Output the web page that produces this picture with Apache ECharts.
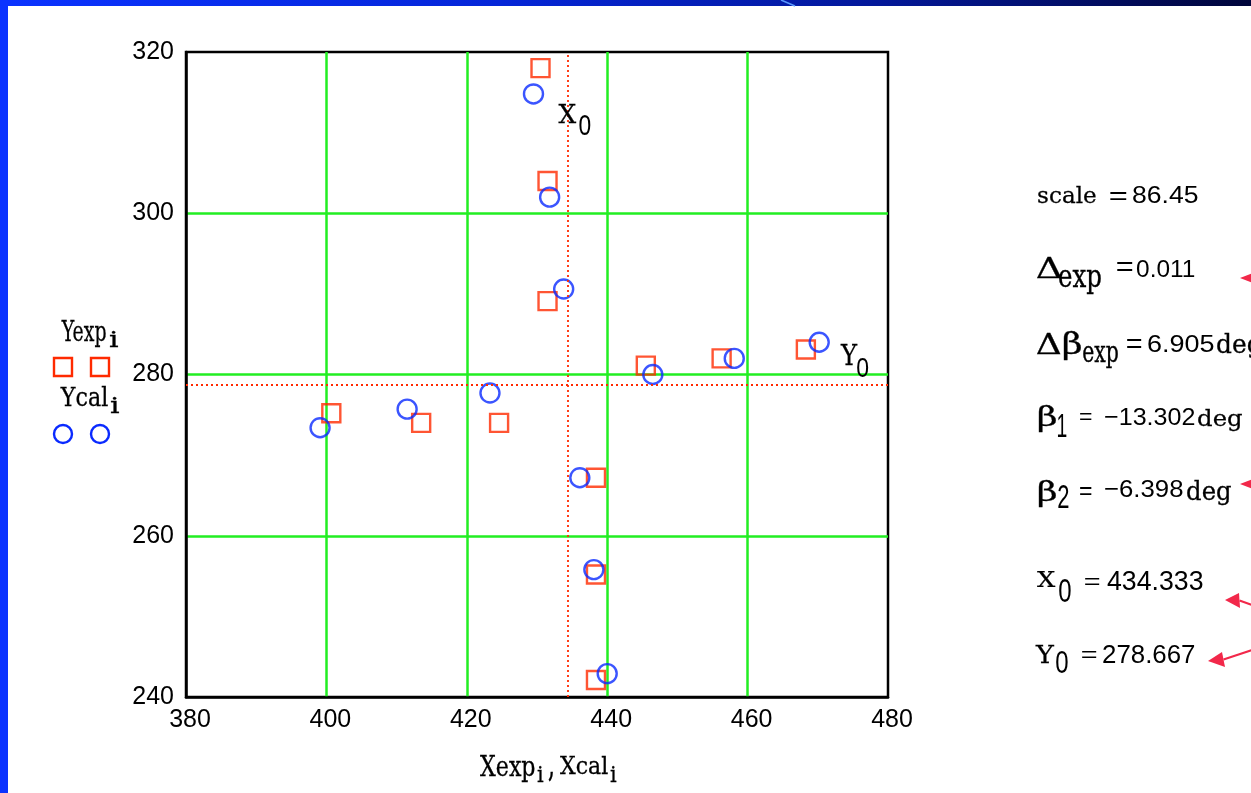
<!DOCTYPE html>
<html><head><meta charset="utf-8">
<script src="https://cdn.jsdelivr.net/npm/echarts@6/dist/echarts.min.js"></script>
<style>html,body{margin:0;padding:0;background:#fff;overflow:hidden}#c{width:1251px;height:793px;}</style>
</head><body><div id="c"></div>
<script>
// ---- data ----
const xTicks = [380, 400, 420, 440, 460, 480];
const yTicks = [240, 260, 280, 300, 320];
const xExp = [430.5, 431.5, 431.5, 400.7, 413.5, 424.6, 438.4, 438.4, 438.4, 445.5, 456.3, 468.3];
const yExp = [318.0, 304.0, 289.1, 275.2, 274.0, 274.0, 267.2, 255.2, 242.1, 281.1, 282.0, 283.1];
const xCal = [429.5, 431.8, 433.8, 399.1, 411.5, 423.3, 436.1, 438.1, 440.0, 446.5, 458.1, 470.2];
const yCal = [314.8, 302.0, 290.6, 273.4, 275.7, 277.7, 267.2, 255.8, 242.9, 280.0, 282.0, 284.0];
const X0 = 434.333;
const Y0 = 278.667;

const RED = '#ff2a00', BLUE = '#0a2aff', GREEN = '#22ee22', ARROW = '#f2284a';
const SERIF = 'DejaVu Serif', SANS = 'Liberation Sans';

const chart = echarts.init(document.getElementById('c'), null, {renderer: 'canvas'});
const mctx = document.createElement('canvas').getContext('2d');
// place text so that its ink fills the box [L,R]x[T,B]
function box(t, fam, size, L, T, R, B) {
  mctx.font = size + 'px ' + fam;
  mctx.textBaseline = 'middle';
  mctx.textAlign = 'left';
  const m = mctx.measureText(t);
  const a = m.actualBoundingBoxAscent, d = m.actualBoundingBoxDescent;
  const l = m.actualBoundingBoxLeft, r = m.actualBoundingBoxRight;
  const sx = (R - L) / (l + r), sy = (B - T) / (a + d);
  const style = {text: t, fontFamily: fam, fontSize: size, fill: '#000', align: 'left', verticalAlign: 'middle'};
  if (fam === SERIF) { style.stroke = '#000'; style.lineWidth = 0.3; }
  return {type: 'text', x: L + sx * l, y: T + sy * a, scaleX: sx, scaleY: sy, silent: true, z: 100, style: style};
}

const option = {
  animation: false,
  backgroundColor: '#fff',
  grid: {left: 186, right: 363, top: 52, bottom: 96, show: true, borderColor: '#000', borderWidth: 2.5,
         backgroundColor: 'rgba(0,0,0,0)', containLabel: false, outerBoundsMode: 'none'},
  xAxis: {type: 'value', min: xTicks[0], max: xTicks[xTicks.length - 1], interval: xTicks[1] - xTicks[0],
    axisLine: {show: true, onZero: false, lineStyle: {color: '#000', width: 2.5}},
    axisTick: {show: false},
    axisLabel: {color: '#000', fontFamily: SANS, fontSize: 25, margin: 11, padding: [0, 0, 0, 8],
      showMinLabel: true, showMaxLabel: true},
    splitLine: {show: true, showMinLine: false, showMaxLine: false, lineStyle: {color: GREEN, width: 2.5}}},
  yAxis: {type: 'value', min: yTicks[0], max: yTicks[yTicks.length - 1], interval: yTicks[1] - yTicks[0],
    axisLine: {show: true, onZero: false, lineStyle: {color: '#000', width: 2.5}},
    axisTick: {show: false},
    axisLabel: {color: '#000', fontFamily: SANS, fontSize: 25, margin: 12, padding: [6, 0, 0, 0],
      showMinLabel: true, showMaxLabel: true},
    splitLine: {show: true, showMinLine: false, showMaxLine: false, lineStyle: {color: GREEN, width: 2.5}}},
  series: [
    {name: 'Yexp', type: 'scatter', symbol: 'rect', symbolSize: 18, z: 3,
     data: xExp.map((x, i) => [x, yExp[i]]),
     itemStyle: {color: 'rgba(0,0,0,0)', borderColor: RED, borderWidth: 2.4},
     markLine: {silent: true, symbol: ['none', 'none'], label: {show: false},
       lineStyle: {color: RED, width: 1.8, type: [2, 3]},
       data: [{xAxis: X0}, {yAxis: Y0}]}},
    {name: 'Ycal', type: 'scatter', symbol: 'circle', symbolSize: 19, z: 4,
     data: xCal.map((x, i) => [x, yCal[i]]),
     itemStyle: {color: 'rgba(0,0,0,0)', borderColor: BLUE, borderWidth: 2.4}}
  ]
};
chart.setOption(option);

// annotation anchors derived from data coordinates
const aX = chart.convertToPixel({gridIndex: 0}, [X0, yTicks[yTicks.length - 1]]);
const aY = chart.convertToPixel({gridIndex: 0}, [xTicks[xTicks.length - 1], Y0]);

const g = [];
// slide frame decoration
g.push({type: 'rect', shape: {x: 0, y: 0, width: 1251, height: 6}, silent: true,
  style: {fill: {type: 'linear', x: 0, y: 0, x2: 1, y2: 0, colorStops: [
    {offset: 0, color: '#0b33ff'}, {offset: 0.4, color: '#0526d8'}, {offset: 0.7, color: '#03189a'}, {offset: 1, color: '#00053a'}]}}});
g.push({type: 'rect', shape: {x: 0, y: 0, width: 8, height: 793}, silent: true, style: {fill: '#0b33ff'}});
g.push({type: 'line', shape: {x1: 781, y1: 0, x2: 795, y2: 6}, silent: true, style: {stroke: '#5a9aff', lineWidth: 1.5}});

// X0 / Y0 labels on the plot
g.push(box('X', SERIF, 27, aX[0] - 9, aX[1] + 51, aX[0] + 9.4, aX[1] + 71));
g.push(box('0', SANS, 28, aX[0] + 12, aX[1] + 63, aX[0] + 23.4, aX[1] + 83));
g.push(box('Y', SERIF, 27, aY[0] - 48, aY[1] - 41.7, aY[0] - 30, aY[1] - 20.7));
g.push(box('0', SANS, 28, aY[0] - 31, aY[1] - 27.7, aY[0] - 19.5, aY[1] - 8.7));

// legend (left)
g.push(box('Yexp', SERIF, 26, 61, 320, 106, 346));
g.push(box('i', SERIF, 24, 109, 331, 119, 347));
g.push({type: 'rect', shape: {x: 54, y: 358, width: 18, height: 18}, silent: true, style: {fill: 'none', stroke: RED, lineWidth: 2.4}});
g.push({type: 'rect', shape: {x: 91, y: 358, width: 18, height: 18}, silent: true, style: {fill: 'none', stroke: RED, lineWidth: 2.4}});
g.push(box('Ycal', SERIF, 26, 60, 386, 108, 406));
g.push(box('i', SERIF, 24, 110, 397, 120, 413));
g.push({type: 'circle', shape: {cx: 63, cy: 434, r: 9}, silent: true, style: {fill: 'none', stroke: BLUE, lineWidth: 2.4}});
g.push({type: 'circle', shape: {cx: 100, cy: 434, r: 9}, silent: true, style: {fill: 'none', stroke: BLUE, lineWidth: 2.4}});

// x-axis title
g.push(box('Xexp', SERIF, 26, 480, 755, 535, 781));
g.push(box('i', SERIF, 24, 537, 765, 544, 782));
g.push(box(',', SERIF, 26, 548, 772, 553, 782));
g.push(box('Xcal', SERIF, 26, 560, 755, 608, 774));
g.push(box('i', SERIF, 24, 610, 765, 617, 782));

// right-hand results block
g.push(box('scale', SERIF, 25, 1038, 187, 1096, 203));
g.push(box('=', SANS, 25, 1110, 192, 1127, 200));
g.push(box('86.45', SANS, 26, 1133, 186, 1198, 203));

g.push(box('\u0394', SERIF, 30, 1037, 257, 1062, 278));
g.push(box('exp', SERIF, 25, 1059, 270, 1101, 293));
g.push(box('=', SANS, 25, 1117, 262, 1133, 271));
g.push(box('0.011', SANS, 26, 1137, 260, 1195, 277));

g.push(box('\u0394', SERIF, 30, 1037, 333, 1061, 354));
g.push(box('\u03b2', SERIF, 28, 1063, 331, 1081, 360));
g.push(box('exp', SERIF, 25, 1083, 346, 1118, 368));
g.push(box('=', SANS, 25, 1127, 339, 1142, 348));
g.push(box('6.905', SANS, 26, 1148, 335, 1214, 352));
g.push(box('deg', SERIF, 26, 1217, 333, 1262, 358));

g.push(box('\u03b2', SERIF, 28, 1038, 405, 1056, 432));
g.push(box('1', SANS, 28, 1058, 415, 1067, 437));
g.push(box('=', SANS, 25, 1080, 413, 1092, 420));
g.push(box('\u221213.302', SANS, 26, 1105, 408, 1195, 425));
g.push(box('deg', SERIF, 26, 1198, 408, 1242, 430));

g.push(box('\u03b2', SERIF, 28, 1038, 480, 1056, 507));
g.push(box('2', SANS, 28, 1058, 485, 1069, 508));
g.push(box('=', SANS, 25, 1080, 487, 1092, 495));
g.push(box('\u22126.398', SANS, 26, 1105, 480, 1183, 497));
g.push(box('deg', SERIF, 26, 1187, 480, 1231, 505));

g.push(box('X', SERIF, 27, 1037, 570, 1056, 587));
g.push(box('0', SANS, 28, 1059, 579, 1071, 602));
g.push(box('=', SANS, 25, 1085, 578, 1100, 585));
g.push(box('434.333', SANS, 26, 1107, 571, 1203, 590));

g.push(box('Y', SERIF, 27, 1035, 644, 1055, 663));
g.push(box('0', SANS, 28, 1056, 652, 1068, 673));
g.push(box('=', SANS, 25, 1082, 651, 1097, 658));
g.push(box('278.667', SANS, 26, 1103, 645, 1195, 663));

// red arrows coming in from the right edge
function arrow(tip, head1, head2, tail) {
  g.push({type: 'line', silent: true, shape: {x1: (head1[0] + head2[0]) / 2, y1: (head1[1] + head2[1]) / 2, x2: tail[0], y2: tail[1]},
    style: {stroke: ARROW, lineWidth: 2}});
  g.push({type: 'polygon', silent: true, shape: {points: [tip, head1, head2]}, style: {fill: ARROW}});
}
arrow([1240, 278], [1258, 271], [1258, 285], [1260, 278]);
arrow([1240, 484], [1258, 477], [1258, 491], [1260, 484]);
arrow([1225, 600], [1239, 593], [1240, 608], [1252, 605]);
arrow([1208, 661], [1222, 652], [1225, 667], [1252, 650]);

chart.setOption({graphic: {elements: g}});
</script>
</body></html>
